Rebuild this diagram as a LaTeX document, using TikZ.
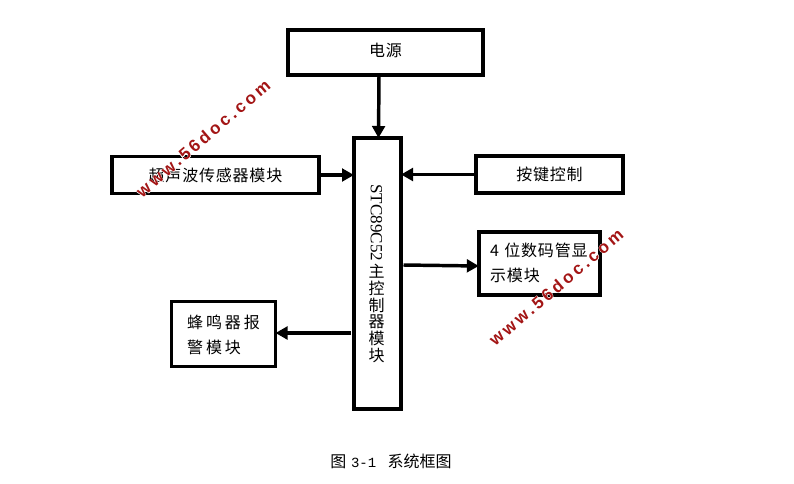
\documentclass[tikz,border=0pt]{standalone}
\usepackage{fontspec}
\setmainfont{Noto Sans CJK SC}
\newfontfamily\latinf{Liberation Serif}
\newfontfamily\monof{Liberation Mono}
\newfontfamily\wmfont[LetterSpace=18]{Liberation Sans}
\newfontfamily\wmhalofont[LetterSpace=18,FakeBold=5]{Liberation Sans}
\newfontfamily\widecjk[LetterSpace=18]{Noto Sans CJK SC}
\newfontfamily\midcjk[LetterSpace=5]{Noto Sans CJK SC}
\usetikzlibrary{arrows.meta,calc}
\definecolor{wmred}{HTML}{A31515}
\tikzset{
  x=0.75pt,y=-0.75pt,
  blockbox/.style={draw=black,line width=2.7pt,outer sep=0pt,inner sep=0pt,font=\fontsize{12pt}{18.75pt}\selectfont},
  link/.style={line width=2.6pt,-{Triangle[length=9pt,width=9.5pt]},shorten <=0pt},
  wmark/.style={rotate=40.5,text=wmred,font=\wmfont\bfseries\fontsize{12.8pt}{12.8pt}\selectfont,inner sep=0pt},
  wmhalo/.style={rotate=40.5,text=white,font=\wmhalofont\bfseries\fontsize{12.8pt}{12.8pt}\selectfont,inner sep=0pt},
  captiontext/.style={inner sep=0pt,font=\fontsize{12pt}{14pt}\selectfont}
}
\begin{document}
\begin{tikzpicture}
\useasboundingbox (0,0) rectangle (794,483);
\fill[white] (0,0) rectangle (794,483);
\node[blockbox,minimum width=146.25pt,minimum height=33.75pt] (power) at (385.5,52.5) {\raisebox{4.5pt}{\midcjk 电源}};
\node[blockbox,minimum width=35.25pt,minimum height=203.25pt,align=center,font=\fontsize{12pt}{12.5pt}\selectfont] (main) at (377.5,273.5)
  {\hspace*{-1.5pt}\rotatebox{-90}{\latinf\fontsize{12.8pt}{12.8pt}\selectfont STC89C52}\\[1.5pt]\hspace*{-1.5pt}主\\\hspace*{-1.5pt}控\\\hspace*{-1.5pt}制\\\hspace*{-1.5pt}器\\\hspace*{-1.5pt}模\\\hspace*{-1.5pt}块};
\node[blockbox,minimum width=155pt,minimum height=27.5pt] (sensor) at (215.5,175) {\raisebox{-1pt}{\midcjk 超声波传感器模块}};
\node[blockbox,minimum width=110.5pt,minimum height=27.5pt] (keys) at (549.5,174.5) {\midcjk 按键控制};
\node[blockbox,minimum width=91pt,minimum height=47.5pt,align=left,text width=74pt] (display) at (539.5,263.5) {\midcjk\rule{0pt}{13pt}4 位数码管显\\\midcjk 示模块\rule[-5pt]{0pt}{5pt}};
\node[blockbox,minimum width=78pt,minimum height=48.5pt,align=left] (buzzer) at (223.5,334) {\widecjk\rule{0pt}{12pt}蜂鸣器报\\\widecjk 警模块};
\node[captiontext] (caption) at (391,461.5) {图\hspace{3.5pt}{\monof\fontsize{10.5pt}{10.5pt}\selectfont 3-1}\hspace{8.5pt}系统框图};

\draw[link] ($(power.south)+(-6.5,0)$) -- ($(main.north)+(1,0)$);
\draw[link] (sensor.east) -- (sensor.east -| main.west);
\draw[link] (keys.west) -- (keys.west -| main.east);
\draw[link] ($(main.east)+(2.5,-8.5)$) -- ($(display.west)+(0,2.5)$);
\draw[link] ($(main.west)+(-3,59.5)$) -- ($(buzzer.east)+(0,-1)$);

\node[wmhalo] (wa) at (203,138.5) {www.56doc.com};
\node[wmhalo] (wb) at (556,287) {www.56doc.com};
\node[wmark] (wc) at (203,138.5) {www.56doc.com};
\node[wmark] (wd) at (556,287) {www.56doc.com};
\end{tikzpicture}
\end{document}
